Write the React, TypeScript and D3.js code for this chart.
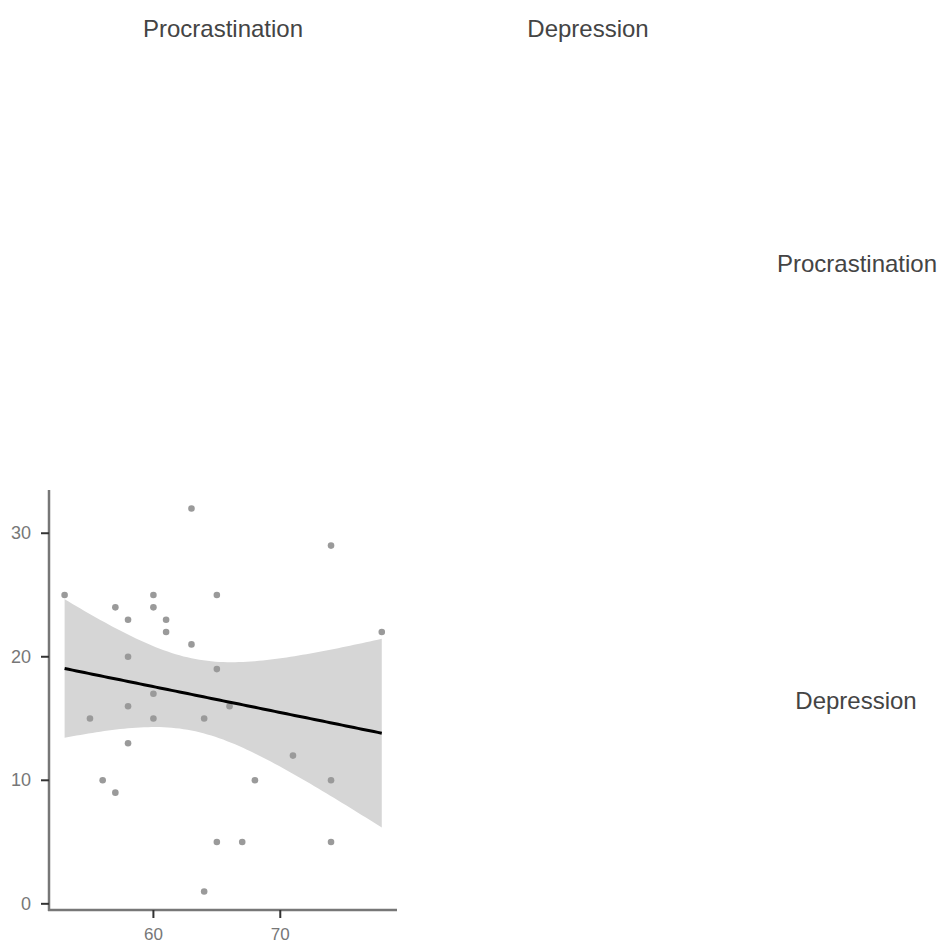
import React from "react";
import * as d3 from "d3";

const variables = ["Procrastination", "Depression"];
const procrastination = [53, 55, 56, 57, 57, 58, 58, 58, 58, 60, 60, 60, 60, 61, 61, 63, 63, 64, 64, 65, 65, 65, 66, 67, 68, 71, 74, 74, 74, 78];
const depression = [25, 15, 10, 24, 9, 23, 20, 16, 13, 25, 24, 17, 15, 23, 22, 32, 21, 15, 1, 25, 19, 5, 16, 5, 10, 12, 29, 10, 5, 22];
const xTicks = [60, 70];
const yTicks = [0, 10, 20, 30];

const W = 942;
const H = 944;

export default function App() {
  const x = d3.scaleLinear().domain([51.77, 79.2]).range([49, 397]);
  const y = d3.scaleLinear().domain([-0.5, 33.5]).range([910, 490]);

  const n = procrastination.length;
  const mx = d3.mean(procrastination)!;
  const my = d3.mean(depression)!;
  let sxx = 0, sxy = 0;
  for (let i = 0; i < n; i++) {
    sxx += (procrastination[i] - mx) ** 2;
    sxy += (procrastination[i] - mx) * (depression[i] - my);
  }
  const b = sxy / sxx;
  const a = my - b * mx;
  let sse = 0;
  for (let i = 0; i < n; i++) sse += (depression[i] - (a + b * procrastination[i])) ** 2;
  const s = Math.sqrt(sse / (n - 2));
  const t = 2.048;
  const [x0, x1] = d3.extent(procrastination) as [number, number];
  const grid = d3.range(0, 81).map((i) => x0 + ((x1 - x0) * i) / 80);
  const band = grid.map((xv) => {
    const fit = a + b * xv;
    const se = s * Math.sqrt(1 / n + (xv - mx) ** 2 / sxx);
    return { xv, lo: fit - t * se, hi: fit + t * se, fit };
  });
  const area = d3
    .area<{ xv: number; lo: number; hi: number }>()
    .x((d) => x(d.xv))
    .y0((d) => y(d.lo))
    .y1((d) => y(d.hi));
  const line = d3
    .line<{ xv: number; fit: number }>()
    .x((d) => x(d.xv))
    .y((d) => y(d.fit));

  const font = "'Liberation Sans', Arial, sans-serif";
  const [xr0, xr1] = x.range();
  const [yr0, yr1] = y.range();

  return (
    <div style={{ position: "absolute", left: 0, top: 0 }}>
      <svg width={W} height={H} style={{ display: "block", background: "#fff" }}>
        <text x={223} y={28} textAnchor="middle" dominantBaseline="central" fontFamily={font} fontSize={24} fill="#444">{variables[0]}</text>
        <text x={588} y={28} textAnchor="middle" dominantBaseline="central" fontFamily={font} fontSize={24} fill="#444">{variables[1]}</text>
        <text x={857} y={263} textAnchor="middle" dominantBaseline="central" fontFamily={font} fontSize={24} fill="#444">{variables[0]}</text>
        <text x={856} y={700} textAnchor="middle" dominantBaseline="central" fontFamily={font} fontSize={24} fill="#444">{variables[1]}</text>

        <path d={area(band) || ""} fill="#d6d6d6" />
        {procrastination.map((p, i) => (
          <circle key={i} cx={x(p)} cy={y(depression[i])} r={3.3} fill="#9a9a9a" />
        ))}
        <path d={line(band) || ""} fill="none" stroke="#000" strokeWidth={3} />

        <line x1={xr0} x2={xr0} y1={yr0 + 1} y2={yr1} stroke="#777" strokeWidth={2.5} />
        <line x1={xr0 - 1} x2={xr1} y1={yr0} y2={yr0} stroke="#777" strokeWidth={2.5} />
        {yTicks.map((v) => (
          <g key={v}>
            <line x1={xr0 - 8} x2={xr0} y1={y(v)} y2={y(v)} stroke="#333" strokeWidth={2} />
            <text x={31} y={y(v)} textAnchor="end" dominantBaseline="central" fontFamily={font} fontSize={18} fill="#777">{v}</text>
          </g>
        ))}
        {xTicks.map((v) => (
          <g key={v}>
            <line x1={x(v)} x2={x(v)} y1={yr0} y2={yr0 + 8} stroke="#333" strokeWidth={2} />
            <text x={x(v)} y={934} textAnchor="middle" dominantBaseline="central" fontFamily={font} fontSize={17} fill="#777">{v}</text>
          </g>
        ))}
      </svg>
    </div>
  );
}
